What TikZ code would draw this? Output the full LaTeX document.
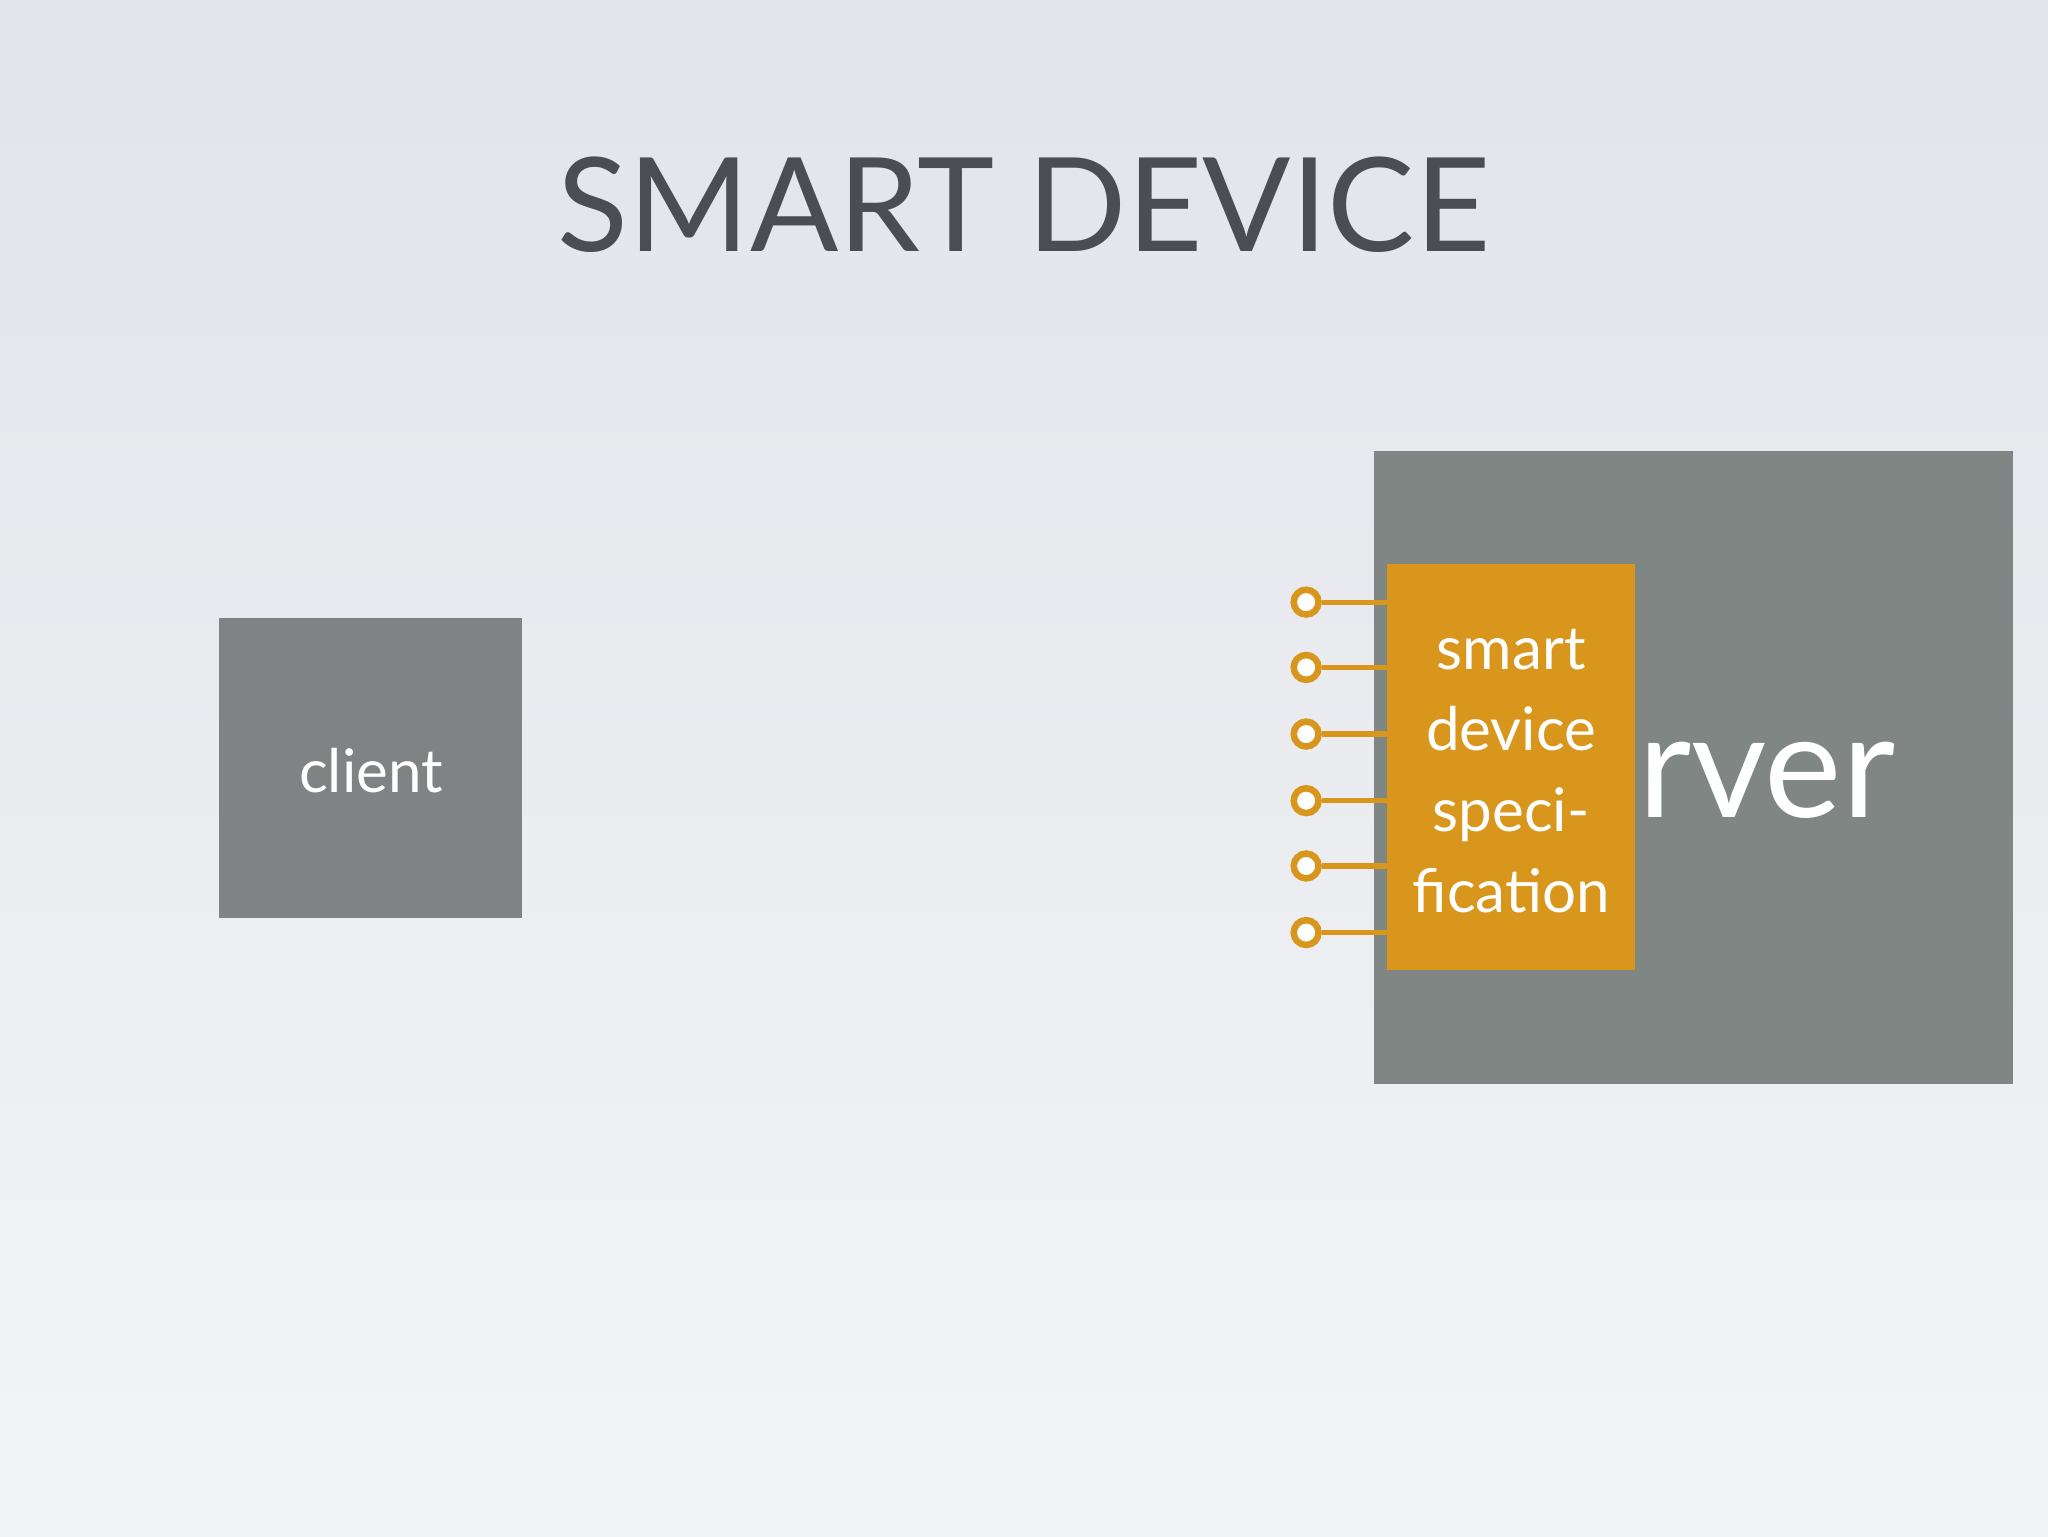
\documentclass[tikz,border=0pt]{standalone}
\usepackage{fontspec}
\setmainfont{Lato}
\definecolor{bgtop}{HTML}{E2E4EA}
\definecolor{bgbot}{HTML}{F3F4F6}
\definecolor{titlec}{HTML}{4A4D52}
\definecolor{boxgray}{HTML}{808384}
\definecolor{srvgray}{HTML}{7F8683}
\definecolor{orng}{HTML}{D8961C}
\tikzset{
  graybox/.style={fill=boxgray, draw=none},
  pin/.style={draw=orng, line width=5pt, circle, minimum size=19pt, inner sep=0pt, fill=white},
  pinline/.style={draw=orng, line width=4pt},
  whitetxt/.style={text=white, inner sep=0pt}
}
\begin{document}
\begin{tikzpicture}[x=1pt,y=-1pt]
\useasboundingbox (0,0) rectangle (1568,1176);
\shade[top color=bgtop, bottom color=bgbot] (0,0) rectangle (1568,1176);
\node[text=titlec, font=\fontsize{100}{104}\selectfont] (title) at (784,157) {SMART DEVICE};
\node[graybox, minimum width=232pt, minimum height=230pt, inner sep=0pt] (client) at (284,588) {};
\node[whitetxt, font=\fontsize{46}{50}\selectfont] (clienttxt) at (284,590) {client};
\node[fill=srvgray, minimum width=489pt, minimum height=485pt, inner sep=0pt] (server) at (1296.5,587.5) {};
\node[whitetxt, anchor=base west, font=\fontsize{112}{112}\selectfont] (servertxt) at (1254,626) {rver};
\node[fill=orng, minimum width=190pt, minimum height=311pt, inner sep=0pt] (spec) at (1157,587.5) {};
\node[whitetxt, align=center, font=\fontsize{46}{62}\selectfont] (spectxt) at (1157,590) {smart\\device\\speci-\\fication};
\foreach \i/\y in {1/461,2/511,3/562,4/613,5/663,6/714}{
  \coordinate (e\i) at (1062,\y);
  \node[pin] (p\i) at (1000,\y) {};
  \draw[pinline] (p\i) -- (e\i);
}
\end{tikzpicture}
\end{document}
